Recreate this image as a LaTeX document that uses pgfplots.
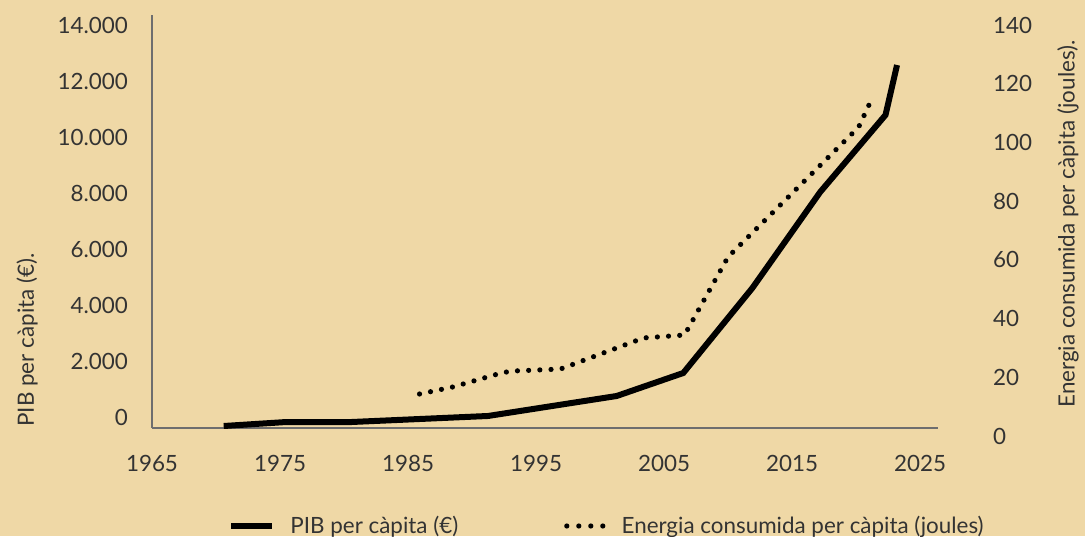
\documentclass[border=0pt]{standalone}
\usepackage{fontspec}
\setmainfont{Lato}
\usepackage{pgfplots}
\pgfplotsset{compat=1.18}
\definecolor{bg}{RGB}{239,216,166}
\definecolor{txt}{RGB}{51,51,51}
\definecolor{axl}{RGB}{110,110,110}

\begin{document}
\begin{tikzpicture}[font=\fontsize{11.2pt}{13pt}\selectfont]
\fill[bg] (0,0) rectangle (542.5pt,268pt);
% PIB per capita (left scale)
\begin{axis}[
  at={(76pt,54pt)}, anchor=south west,
  scale only axis, width=393pt, height=206.5pt,
  xmin=1965, xmax=2026.4, ymin=0, ymax=14750,
  axis x line*=bottom, axis y line*=left,
  axis line style={draw=axl, line width=1pt, -},
  xtick={1965,1975,...,2025},
  xticklabels={1965,1975,1985,1995,2005,2015,2025},
  ytick={0,2000,...,14000},
  yticklabels={0,2.000,4.000,6.000,8.000,10.000,12.000,14.000},
  scaled y ticks=false,
  /pgf/number format/assume math mode=true,
  major tick length=0pt,
  tick label style={text=txt},
  xticklabel style={yshift=-10.25pt},
  yticklabel style={xshift=-8.5pt, yshift=5.5pt},
  clip=false,
  legend columns=2,
  legend style={at={(0.0967,-0.2373)}, anchor=west, draw=none, fill=none,
    inner sep=0pt, nodes={inner sep=0pt, text=txt},
    /tikz/every odd column/.append style={column sep=7.5pt},
    /tikz/every even column/.append style={column sep=53pt}},
  legend image code/.code={\draw[#1] (0pt,0pt) -- (20.5pt,0pt);},
]
\addplot[black, line width=3pt] table {
1970.6 71
1975.5 214
1980.6 214
1991.25 429
2001.3 1143
2006.5 1964
2011.9 5000
2017.2 8429
2022.3 11179
2023.2 12964
};
\addlegendentry{PIB per càpita (€)}
\addlegendimage{legend image code/.code={\draw[black, line width=2.6pt, line cap=round, dash pattern=on 0pt off 6pt] (0pt,0pt) -- (18.6pt,0pt);}}
\addlegendentry{Energia consumida per càpita (joules)}
\end{axis}
% energy per capita (right scale)
\begin{axis}[
  at={(76pt,50pt)}, anchor=south west,
  scale only axis, width=393pt, height=205.5pt,
  xmin=1965, xmax=2026.4, ymin=0, ymax=140,
  axis x line=none, axis y line*=right,
  y axis line style={draw=none},
  ytick={0,20,...,140},
  /pgf/number format/assume math mode=true,
  major tick length=0pt,
  yticklabel style={xshift=24pt, text=txt},
  clip=false,
]
\addplot[black, line width=2.6pt, line cap=round, dash pattern=on 0pt off 5.6pt] table {
1985.9 14.3
1988.5 16.7
1992.0 21.1
1993.0 22.1
1996.9 22.8
2003.4 33.4
2006.6 34.4
2010.0 61.0
2020.2 105.2
2021.3 115.5
};
\end{axis}
\node[rotate=90, anchor=west, inner sep=0pt, text=txt] at (13.5pt,54.5pt) {PIB per càpita (€).};
\node[rotate=90, anchor=west, inner sep=0pt, text=txt] at (534pt,64pt) {Energia consumida per càpita (joules).};
\end{tikzpicture}
\end{document}
